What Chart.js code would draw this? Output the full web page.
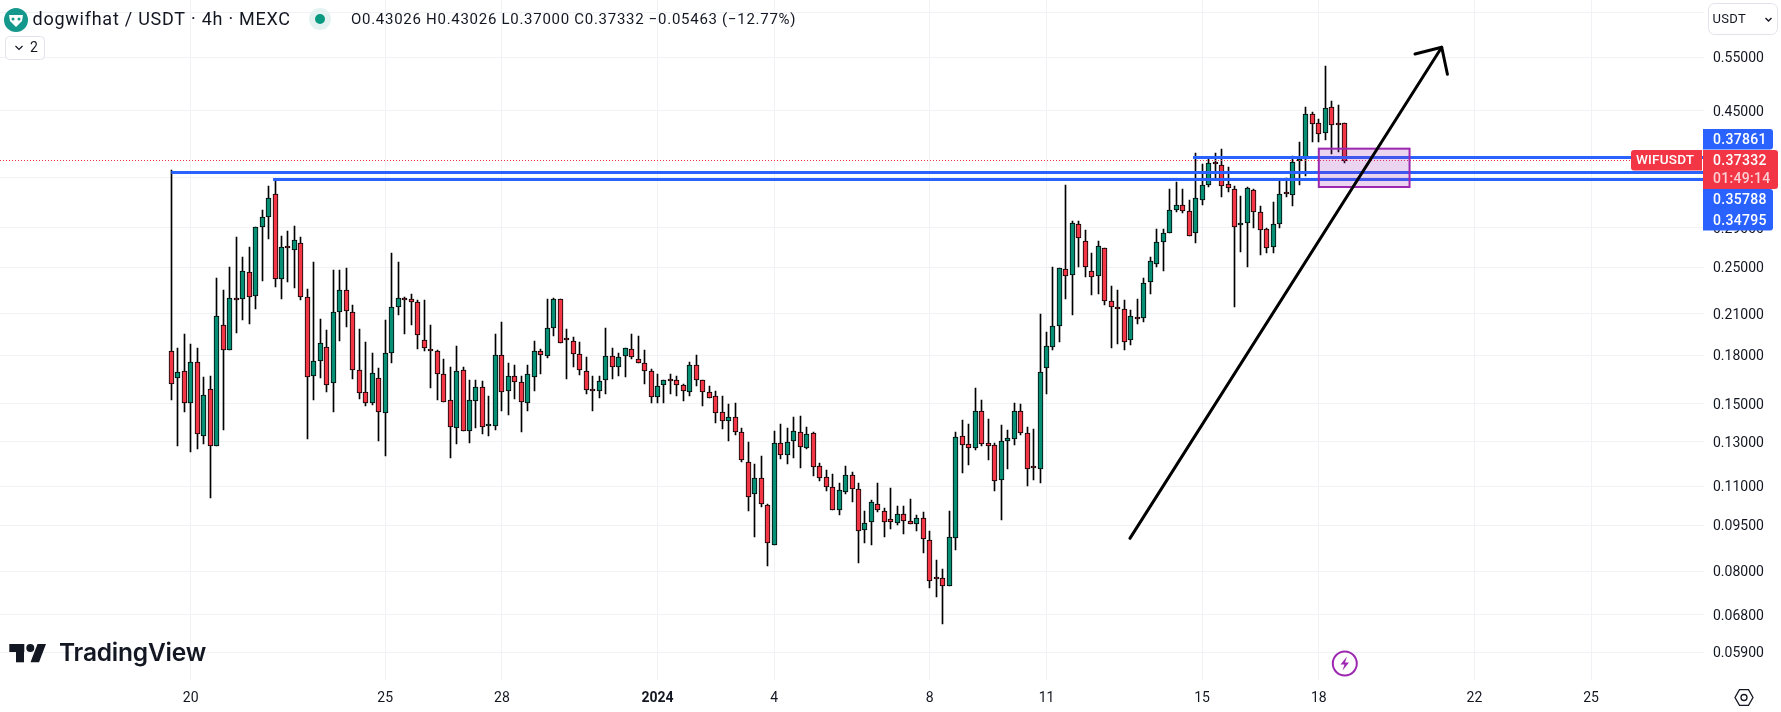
<!DOCTYPE html>
<html>
<head>
<meta charset="utf-8">
<title>dogwifhat / USDT</title>
<script src="https://cdn.jsdelivr.net/npm/chart.js@4/dist/chart.umd.min.js"></script>
<style>
    html, body { margin: 0; padding: 0; background: #fff; }
    canvas { display: block; }
</style>
</head>
<body>
<canvas id="chart" width="1781" height="712"></canvas>
<script>
// 4h candles, first bar is index 0
const opens = [
    .1826,.1650,.1694,.1502,.1752,.1328,.1582,.1279,.2013,.1833,
    .2227,.2219,.2456,.2243,.2907,.3018,.3289,.2392,.2697,.2667,
    .2738,.2235,.1662,.1758,.1853,.1620,.2114,.2295,.2114,.1700,
    .1565,.1502,.1650,.1447,.1812,.2153,.2224,.2219,.2193,.1903,
    .1840,.1826,.1675,.1519,.1368,.1700,.1352,.1514,.1595,.1378,
    .1378,.1799,.1571,.1662,.1626,.1502,.1657,.1826,.1792,.1990,
    .2219,.1917,.1896,.1806,.1694,.1577,.1571,.1638,.1792,.1719,
    .1792,.1840,.1772,.1745,.1694,.1537,.1608,.1632,.1638,.1608,
    .1565,.1732,.1638,.1565,.1544,.1452,.1404,.1426,.1347,.1205,
    .1067,.1135,.1025,.0883,.1293,.1236,.1303,.1347,.1269,.1342,
    .1188,.1139,.1096,.1006,.1076,.1147,.1088,.0933,.0961,.1029,
    .1002,.0973,.0958,.0991,.0965,.0954,.0976,.0899,.0780,.0780,
    .0757,.0905,.1328,.1288,.1269,.1458,.1293,.1283,.1126,.1303,
    .1313,.1458,.1342,.1179,.1173,.1713,.1853,.2006,.2483,.2428,
    .2940,.2759,.2465,.2419,.2687,.2202,.2158,.2137,.1903,.2074,
    .2066,.2366,.2531,.2748,.2842,.3098,.3156,.3087,.2842,.3216,
    .3403,.3709,.3667,.3415,.3352,.2930,.2951,.3339,.3075,.2886,
    .2697,.2940,.3310,.3278,.3723,.3752,.4445,.4295,.4145,.4560,
    .4280,.43026
];
const highs = [
    .3604,.1847,.1948,.1874,.1847,.1657,.1665,.2401,.2298,.2502,
    .2801,.2598,.2697,.2907,.3102,.3389,.3480,.2811,.2864,.2917,
    .2801,.2304,.2550,.2061,.1978,.2474,.2474,.2493,.2170,.1983,
    .1889,.1812,.1713,.2053,.2637,.2550,.2237,.2264,.2211,.2211,
    .2013,.1833,.1772,.1719,.1860,.1719,.1640,.1640,.1632,.1544,
    .1946,.2036,.1745,.1732,.1662,.1732,.1896,.1840,.2221,.2227,
    .2219,.1983,.1924,.1889,.1785,.1662,.1662,.1990,.1847,.1812,
    .1847,.1946,.1932,.1833,.1706,.1675,.1638,.1675,.1662,.1614,
    .1752,.1799,.1638,.1602,.1571,.1544,.1497,.1502,.1368,.1298,
    .1194,.1232,.1029,.1352,.1388,.1368,.1426,.1431,.1373,.1347,
    .1200,.1169,.1151,.1113,.1188,.1160,.1113,.1002,.1044,.1113,
    .1013,.1092,.1021,.1021,.1048,.0987,.0998,.0930,.0834,.0807,
    .1003,.1347,.1411,.1390,.1589,.1521,.1416,.1293,.1385,.1359,
    .1502,.1497,.1373,.1363,.2097,.1961,.2502,.2493,.3403,.2974,
    .2974,.2875,.2637,.2759,.2687,.2329,.2295,.2211,.2130,.2219,
    .2401,.2598,.2886,.2886,.3352,.3442,.3352,.3216,.3837,.3681,
    .3766,.3837,.3895,.3640,.3389,.3268,.3380,.3352,.3145,.2896,
    .3193,.3480,.3493,.3792,.4000,.4560,.4475,.4358,.5317,.4663,
    .4592,.43026
];
const lows = [
    .1521,.1281,.1456,.1253,.1267,.1291,.1054,.1279,.1359,.1833,
    .1958,.2053,.2023,.2142,.2380,.2786,.2324,.2221,.2368,.2316,
    .2213,.1315,.1521,.1652,.1567,.1454,.1898,.2000,.1646,.1527,
    .1487,.1492,.1304,.1233,.1748,.2090,.1948,.2014,.1842,.1828,
    .1590,.1521,.1508,.1221,.1290,.1352,.1295,.1368,.1338,.1328,
    .1359,.1459,.1438,.1527,.1349,.1459,.1573,.1677,.1778,.1936,
    .1881,.1648,.1723,.1671,.1557,.1461,.1534,.1557,.1648,.1664,
    .1658,.1772,.1745,.1617,.1506,.1506,.1506,.1557,.1545,.1517,
    .1545,.1605,.1488,.1531,.1397,.1365,.1306,.1333,.1203,.1004,
    .0911,.1017,.0817,.0883,.1219,.1194,.1221,.1179,.1264,.1144,
    .1124,.1082,.1006,.0988,.1067,.1037,.0824,.0890,.0883,.0999,
    .0908,.0938,.0952,.0920,.0954,.0930,.0857,.0752,.0727,.0657,
    .0757,.0865,.1158,.1190,.1261,.1281,.1215,.1081,.0971,.1174,
    .1286,.1335,.1103,.1127,.1115,.1557,.1837,.1893,.2221,.2095,
    .2508,.2416,.2251,.2267,.2175,.1851,.1879,.1837,.1872,.2021,
    .2040,.2259,.2508,.2470,.2842,.3075,.3064,.2811,.2744,.3165,
    .3377,.3484,.3257,.3322,.2156,.2653,.2508,.2903,.2624,.2635,
    .2635,.2903,.3260,.3150,.3410,.3527,.4008,.4008,.4030,.3832,
    .3853,.37
];
const closes = [
    .1614,.1687,.1502,.1752,.1337,.1548,.1279,.2083,.1833,.2227,
    .2211,.2465,.2235,.2907,.3018,.3241,.2392,.2697,.2693,.2769,
    .2235,.1657,.1758,.1881,.1608,.2114,.2295,.2122,.1700,.1560,
    .1502,.1681,.1452,.1812,.2153,.2227,.2211,.2193,.1939,.1847,
    .1826,.1675,.1508,.1373,.1694,.1352,.1519,.1595,.1373,.1388,
    .1799,.1565,.1662,.1626,.1508,.1675,.1826,.1799,.1990,.2219,
    .1881,.1903,.1806,.1700,.1577,.1571,.1632,.1792,.1719,.1785,
    .1847,.1785,.1745,.1694,.1537,.1602,.1638,.1630,.1608,.1571,
    .1732,.1638,.1565,.1531,.1447,.1404,.1426,.1347,.1214,.1056,
    .1135,.1029,.0889,.1293,.1236,.1298,.1352,.1274,.1337,.1182,
    .1135,.1096,.1006,.1084,.1147,.1088,.0930,.0958,.1036,.1006,
    .0961,.0961,.0991,.0965,.0954,.0976,.0902,.0771,.0777,.0757,
    .0909,.1323,.1283,.1269,.1458,.1288,.1279,.1122,.1303,.1318,
    .1458,.1342,.1173,.1177,.1687,.1860,.2006,.2493,.2419,.2951,
    .2790,.2502,.2410,.2707,.2202,.2153,.2137,.1889,.2083,.2058,
    .2357,.2560,.2748,.2842,.3098,.3156,.3087,.2811,.3241,.3403,
    .3696,.3681,.3389,.3364,.2907,.2951,.3364,.3075,.2875,.2687,
    .2940,.3295,.3295,.3709,.3752,.4445,.4280,.4120,.4540,.4263,
    .4263,.37332
];

// axis ticks
const xTickIndexes = [3, 33, 51, 75, 93, 117, 135, 159, 177, 201, 219];
const xTickLabels = ['20', '25', '28', '2024', '4', '8', '11', '15', '18', '22', '25'];
const yTicks = [.65, .55, .45, .35, .29, .25, .21, .18, .15, .13, .11, .095, .08, .068, .059];

// horizontal levels drawn on the chart: price and the bar they start from
const levelPrices = [.37861, .35788, .34795];
const levelStarts = [157.6, 0, 15.7];
const lastPrice = .37332;

// long trend arrow, tail to tip, then the two barbs
const arrowBars = [147.87, 195.96];
const arrowPrices = [.0905, .5710];
const barbBars = [191.84, 195.96, 196.84];
const barbPrices = [.5568, .5710, .5160];

// zone box
const zoneBars = [177, 191];
const zonePrices = [.3904, .3381];

const UP = '#078f76';
const DOWN = '#f23645';
const BLUE = '#2962ff';
const TEXT = '#131722';
const FONT = 'Roboto, sans-serif';

const xMin = -26.42;
const xMax = 236.34;
const yMin = .05319;
const yMax = .6819;

const bars = opens.map((o, i) => i);

function roundBox(ctx, x, y, w, h, r, fill, stroke) {
    ctx.beginPath();
    ctx.roundRect(x, y, w, h, r);
    if (fill) {
        ctx.fillStyle = fill;
        ctx.fill();
    }
    if (stroke) {
        ctx.strokeStyle = stroke;
        ctx.lineWidth = 1;
        ctx.stroke();
    }
}

function label(ctx, text, x, y, font, color, spacing, align) {
    ctx.font = font;
    ctx.fillStyle = color;
    ctx.textBaseline = 'middle';
    ctx.textAlign = align || 'left';
    ctx.letterSpacing = spacing || '0px';
    ctx.fillText(text, x, y);
    ctx.letterSpacing = '0px';
}

function drawHeader(ctx) {
    // coin logo
    ctx.fillStyle = '#14988c';
    ctx.beginPath();
    ctx.arc(16, 20, 12, 0, Math.PI * 2);
    ctx.fill();
    ctx.fillStyle = '#fff';
    ctx.beginPath();
    ctx.moveTo(9, 15);
    ctx.lineTo(23, 15);
    ctx.lineTo(22, 21);
    ctx.lineTo(16, 27);
    ctx.lineTo(10, 21);
    ctx.closePath();
    ctx.fill();
    ctx.fillStyle = '#14988c';
    ctx.beginPath();
    ctx.arc(13, 19, 1.5, 0, Math.PI * 2);
    ctx.arc(19, 19, 1.5, 0, Math.PI * 2);
    ctx.fill();

    label(ctx, 'dogwifhat / USDT · 4h · MEXC', 32.5, 20, '18px ' + FONT, TEXT, '0.75px');

    // market status dot
    ctx.fillStyle = '#e4f3f1';
    ctx.beginPath();
    ctx.arc(320, 19, 11, 0, Math.PI * 2);
    ctx.fill();
    ctx.fillStyle = '#089981';
    ctx.beginPath();
    ctx.arc(320, 19, 5, 0, Math.PI * 2);
    ctx.fill();

    label(ctx, 'O0.43026 H0.43026 L0.37000 C0.37332 −0.05463 (−12.77%)', 351, 20, '15px ' + FONT, TEXT, '0.72px');

    // collapsed indicators button
    roundBox(ctx, 5.5, 36.5, 39, 23, 4, '#fff', '#e0e3eb');
    ctx.strokeStyle = TEXT;
    ctx.lineWidth = 1.2;
    ctx.beginPath();
    ctx.moveTo(15.5, 46);
    ctx.lineTo(19, 49.5);
    ctx.lineTo(22.5, 46);
    ctx.stroke();
    label(ctx, '2', 30, 48, '14px ' + FONT, TEXT);
}

function drawCurrencyButton(ctx) {
    roundBox(ctx, 1708.5, 3.5, 69, 31, 6, '#fff', '#e0e3eb');
    label(ctx, 'USDT', 1712.5, 19.5, '13px ' + FONT, TEXT, '0.3px');
    ctx.strokeStyle = TEXT;
    ctx.lineWidth = 1.4;
    ctx.beginPath();
    ctx.moveTo(1765.5, 18);
    ctx.lineTo(1768.5, 21);
    ctx.lineTo(1771.5, 18);
    ctx.stroke();
}

function drawPriceTags(ctx) {
    const tagFont = '500 14px ' + FONT;
    roundBox(ctx, 1703, 129, 70, 20.5, [0, 3, 3, 0], BLUE);
    label(ctx, '0.37861', 1713, 140, tagFont, '#fff', '0.3px');

    roundBox(ctx, 1703, 189, 70, 41.5, [0, 3, 3, 0], BLUE);
    label(ctx, '0.35788', 1713, 200, tagFont, '#fff', '0.3px');
    label(ctx, '0.34795', 1713, 221, tagFont, '#fff', '0.3px');

    roundBox(ctx, 1703, 150, 75, 39, [0, 3, 3, 0], DOWN);
    label(ctx, '0.37332', 1713, 161, tagFont, '#fff', '0.3px');
    label(ctx, '01:49:14', 1713, 179, tagFont, '#fbd0d4', '0.3px');

    roundBox(ctx, 1631, 150, 71, 20.5, [3, 0, 0, 3], DOWN);
    label(ctx, 'WIFUSDT', 1636, 161, '500 13.5px ' + FONT, '#fff', '0.2px');
}

function drawLogo(ctx) {
    ctx.fillStyle = TEXT;
    ctx.fillRect(9.3, 644, 15, 8);
    ctx.fillRect(16, 644, 8, 18.3);
    ctx.beginPath();
    ctx.arc(30.3, 648, 4, 0, Math.PI * 2);
    ctx.fill();
    ctx.beginPath();
    ctx.moveTo(37.5, 644);
    ctx.lineTo(46, 644);
    ctx.lineTo(39, 662.3);
    ctx.lineTo(30.5, 662.3);
    ctx.closePath();
    ctx.fill();
    label(ctx, 'TradingView', 59, 654, '600 24.5px Inter, ' + FONT, TEXT, '-0.2px');
}

function drawBoltIcon(ctx) {
    ctx.strokeStyle = '#9c27b0';
    ctx.fillStyle = '#fff';
    ctx.lineWidth = 2;
    ctx.beginPath();
    ctx.arc(1344.8, 663.5, 12, 0, Math.PI * 2);
    ctx.fill();
    ctx.stroke();
    ctx.fillStyle = '#9c27b0';
    ctx.beginPath();
    ctx.moveTo(1347, 656.5);
    ctx.lineTo(1340.5, 664.5);
    ctx.lineTo(1344.5, 664.5);
    ctx.lineTo(1342.5, 670.5);
    ctx.lineTo(1349, 662.5);
    ctx.lineTo(1345, 662.5);
    ctx.closePath();
    ctx.fill();
}

function drawSettingsIcon(ctx) {
    const cx = 1744, cy = 697.5, r = 9;
    ctx.strokeStyle = TEXT;
    ctx.lineWidth = 1.3;
    ctx.beginPath();
    for (let i = 0; i < 6; i++) {
        const a = Math.PI * i / 3;
        const px = cx + r * Math.cos(a);
        const py = cy + r * Math.sin(a);
        if (i === 0) ctx.moveTo(px, py); else ctx.lineTo(px, py);
    }
    ctx.closePath();
    ctx.stroke();
    ctx.beginPath();
    ctx.arc(cx, cy, 3, 0, Math.PI * 2);
    ctx.stroke();
}

// snap candles and level lines to whole pixels so they stay crisp like the original
const snapPlugin = {
    id: 'snap',
    beforeDatasetsDraw(chart) {
        chart.getSortedVisibleDatasetMetas().forEach(meta => {
            if (meta.type === 'bar') {
                meta.data.forEach(el => {
                    el.x = Math.floor(el.x) + 0.5;
                    el.y = Math.round(el.y);
                    el.base = Math.round(el.base);
                });
            } else if (meta.label.startsWith('Level')) {
                meta.data.forEach(el => {
                    el.y = Math.round(el.y) + 0.5;
                });
            } else if (meta.label === 'Last price') {
                meta.data.forEach(el => {
                    el.y = Math.floor(el.y) + 0.5;
                });
            }
        });
    }
};

// zone sits under the arrow but over the levels, so it goes in just before the arrow dataset
const zonePlugin = {
    id: 'zone',
    beforeDatasetDraw(chart, args) {
        if (args.meta.label !== 'Arrow') return;
        const { ctx, scales } = chart;
        const x1 = scales.x.getPixelForValue(zoneBars[0]);
        const x2 = scales.x.getPixelForValue(zoneBars[1]);
        const y1 = scales.y.getPixelForValue(zonePrices[0]);
        const y2 = scales.y.getPixelForValue(zonePrices[1]);
        ctx.save();
        ctx.fillStyle = 'rgba(156, 39, 176, 0.2)';
        ctx.strokeStyle = '#9c27b0';
        ctx.lineWidth = 2;
        ctx.fillRect(x1, y1, x2 - x1, y2 - y1);
        ctx.strokeRect(x1, y1, x2 - x1, y2 - y1);
        ctx.restore();
    }
};

const overlayPlugin = {
    id: 'overlay',
    afterDraw(chart) {
        const ctx = chart.ctx;
        ctx.save();
        drawLogo(ctx);
        drawBoltIcon(ctx);
        drawSettingsIcon(ctx);
        drawPriceTags(ctx);
        drawCurrencyButton(ctx);
        drawHeader(ctx);
        ctx.restore();
    }
};

const levelDatasets = levelPrices.map((price, i) => ({
    type: 'line',
    label: 'Level ' + price,
    data: [{ x: levelStarts[i], y: price }, { x: xMax, y: price }],
    borderColor: BLUE,
    borderWidth: 3,
    pointRadius: 0,
    order: 1
}));

new Chart(document.getElementById('chart'), {
    data: {
        datasets: [
            {
                type: 'bar',
                label: 'Wicks',
                data: bars.map(i => ({ x: i, y: [lows[i], highs[i]] })),
                backgroundColor: '#000',
                barThickness: 1,
                grouped: false,
                order: 4
            },
            {
                type: 'bar',
                label: 'Bodies',
                data: bars.map(i => ({ x: i, y: [opens[i], closes[i]] })),
                backgroundColor: bars.map(i => closes[i] > opens[i] ? UP : DOWN),
                borderColor: '#000',
                borderWidth: 1,
                borderSkipped: false,
                barThickness: 5,
                minBarLength: 2,
                grouped: false,
                order: 3
            },
            {
                type: 'line',
                label: 'Last price',
                data: [{ x: xMin, y: lastPrice }, { x: xMax, y: lastPrice }],
                borderColor: DOWN,
                borderWidth: 1,
                borderDash: [1, 2],
                pointRadius: 0,
                order: 2
            },
            ...levelDatasets,
            {
                type: 'line',
                label: 'Arrow',
                data: arrowBars.map((b, i) => ({ x: b, y: arrowPrices[i] })),
                borderColor: '#000',
                borderWidth: 3,
                borderCapStyle: 'round',
                pointRadius: 0,
                order: 0
            },
            {
                type: 'line',
                label: 'Arrow head',
                data: barbBars.map((b, i) => ({ x: b, y: barbPrices[i] })),
                borderColor: '#000',
                borderWidth: 3,
                borderCapStyle: 'round',
                borderJoinStyle: 'round',
                pointRadius: 0,
                order: -1
            }
        ]
    },
    options: {
        responsive: false,
        animation: false,
        layout: { padding: 0 },
        plugins: {
            legend: { display: false },
            tooltip: { enabled: false }
        },
        scales: {
            x: {
                type: 'linear',
                offset: false,
                bounds: 'data',
                min: xMin,
                max: xMax,
                afterBuildTicks: scale => {
                    scale.ticks = xTickIndexes.map(value => ({ value }));
                },
                afterFit: scale => {
                    scale.height = 32;
                    scale.paddingLeft = scale.paddingRight = 0;
                },
                grid: { color: '#f0f2f6', drawTicks: false, offset: false },
                border: { display: false },
                ticks: {
                    autoSkip: false,
                    maxRotation: 0,
                    padding: 10,
                    color: TEXT,
                    font: ctx => ({
                        family: FONT,
                        size: 14,
                        weight: ctx.tick && ctx.tick.value === 75 ? 'bold' : 'normal'
                    }),
                    callback: value => xTickLabels[xTickIndexes.indexOf(value)]
                }
            },
            y: {
                type: 'logarithmic',
                position: 'right',
                bounds: 'data',
                min: yMin,
                max: yMax,
                afterBuildTicks: scale => {
                    scale.ticks = yTicks.map(value => ({ value }));
                },
                afterFit: scale => {
                    scale.width = 77.5;
                    scale.paddingTop = scale.paddingBottom = 0;
                },
                grid: { color: '#f0f2f6', drawTicks: false },
                border: { display: false },
                ticks: {
                    autoSkip: false,
                    padding: 9.5,
                    labelOffset: 1.5,
                    color: TEXT,
                    font: { family: FONT, size: 14 },
                    callback: value => value.toFixed(5)
                }
            }
        }
    },
    plugins: [snapPlugin, zonePlugin, overlayPlugin]
});
</script>
</body>
</html>
